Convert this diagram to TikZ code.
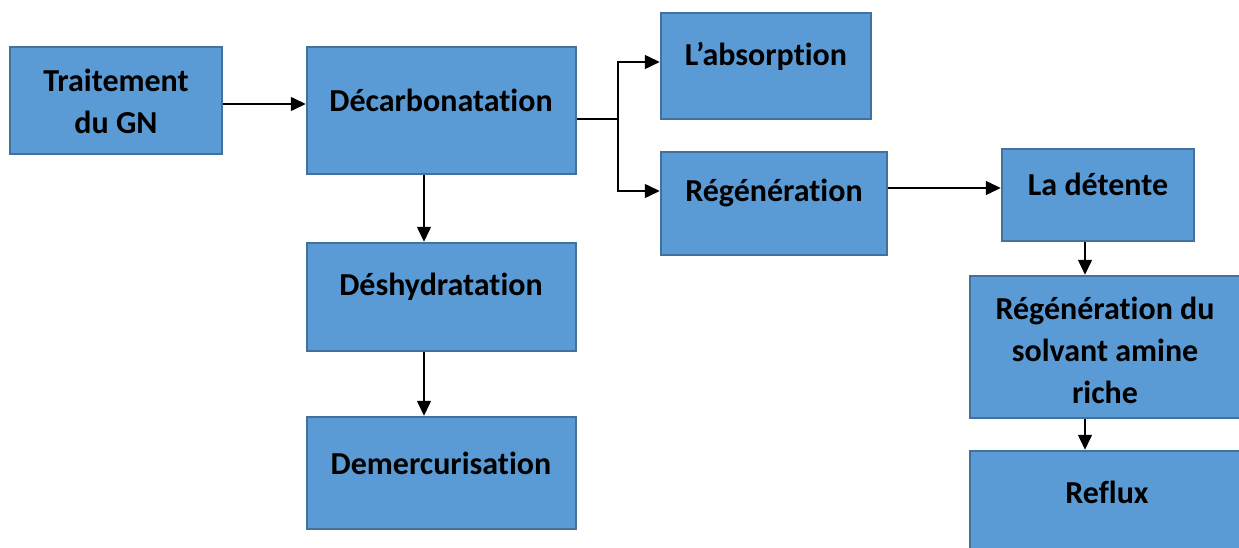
\documentclass[tikz,border=0pt]{standalone}
\usepackage{fontspec}
\setmainfont[RawFeature=-liga]{Carlito}
\usetikzlibrary{arrows.meta,calc}
\definecolor{boxfill}{HTML}{5B9BD5}
\definecolor{boxline}{HTML}{41719C}
\begin{document}
\begin{tikzpicture}[x=1pt,y=-1pt,
  box/.style={draw=boxline, fill=boxfill, line width=2.5pt, inner sep=0pt},
  lbl/.style={font=\bfseries\fontsize{32}{42}\selectfont, align=center, inner sep=0pt, text=black},
  arr/.style={line width=1.5pt, -{Triangle[length=15pt,width=14pt]}},
  ln/.style={line width=1.5pt}]
\useasboundingbox (0,0) rectangle (1239,548);
\clip (0,0) rectangle (1239,548);
% boxes
\node[box, minimum width=212pt, minimum height=107pt] (trait) at (116,100.5) {};
\node[box, minimum width=269pt, minimum height=127pt] (dec) at (441.5,110.5) {};
\node[box, minimum width=269pt, minimum height=108pt] (desh) at (441.5,297) {};
\node[box, minimum width=269pt, minimum height=112pt] (dem) at (441.5,473) {};
\node[box, minimum width=210pt, minimum height=106pt] (abs) at (766,66) {};
\node[box, minimum width=226pt, minimum height=103pt] (reg) at (774,203.5) {};
\node[box, minimum width=192pt, minimum height=92pt] (det) at (1098,195) {};
\node[box, minimum width=276pt, minimum height=142pt] (solv) at (1108,347) {};
\node[box, minimum width=276pt, minimum height=104pt] (refl) at (1108,503) {};
% labels
\node[lbl] (traitT) at (116,101) {Traitement\\du GN};
\node[lbl] (decT) at (441,100) {Décarbonatation};
\node[lbl] (deshT) at (441,287) {Déshydratation};
\node[lbl] (demT) at (441,463) {Demercurisation};
\node[lbl] (absT) at (766,56) {L’absorption};
\node[lbl] (regT) at (774,193) {Régénération};
\node[lbl] (detT) at (1098,184) {La détente};
\node[lbl] (solvT) at (1105,350) {Régénération du\\solvant amine\\riche};
\node[lbl] (reflT) at (1107,492) {Reflux};
% connectors
\coordinate (p1) at ($(dec.west)+(0,-6.5)$);
\draw[arr] (trait.east |- p1) -- (p1);
\coordinate (br) at (618,119);
\draw[ln] (dec.east |- br) -- (br);
\draw[arr] (br) |- ($(abs.west)+(0,-4)$);
\draw[arr] (br) |- ($(reg.west)+(0,-12.5)$);
\coordinate (p2) at ($(dec.south)+(-17.5,0)$);
\draw[arr] (p2) -- (p2 |- desh.north);
\coordinate (p3) at ($(desh.south)+(-17.5,0)$);
\draw[arr] (p3) -- (p3 |- dem.north);
\coordinate (p4) at ($(det.west)+(0,-7)$);
\draw[arr] (reg.east |- p4) -- (p4);
\coordinate (p5) at ($(det.south)+(-13,0)$);
\draw[arr] (p5) -- (p5 |- solv.north);
\coordinate (p6) at ($(solv.south)+(-23,0)$);
\draw[arr] (p6) -- (p6 |- refl.north);
\end{tikzpicture}
\end{document}
